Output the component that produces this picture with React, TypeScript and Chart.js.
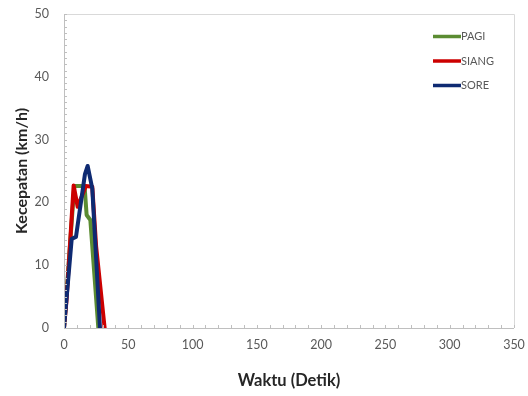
import React, { useEffect, useRef } from "react";
import { Chart, registerables } from "chart.js";

Chart.register(...registerables);

const seriesNames = ["PAGI", "SIANG", "SORE"];
const seriesColors = ["#5B8C32", "#CC0000", "#0E2A72"];

const pagiTime = [0, 8, 16, 17.6, 20.5, 26.7];
const pagiSpeed = [0, 22.6, 22.6, 18, 17.2, 0];

const siangTime = [0, 2, 7.5, 10.6, 17, 22, 25, 31.6];
const siangSpeed = [0, 4.5, 22.7, 19.3, 22.6, 22.5, 13, 0];

const soreTime = [0, 6, 9.3, 16.3, 18.4, 22, 28];
const soreSpeed = [0, 14.2, 14.5, 24.5, 25.8, 22.2, 0];

const xTicksMax = 350;
const yTicksMax = 50;
const xTitle = "Waktu (Detik)";
const yTitle = "Kecepatan (km/h)";

const FONT = "Lato, 'Open Sans', sans-serif";

const toPoints = (t: number[], v: number[]) => t.map((x, i) => ({ x, y: v[i] }));

const framePlugin = {
  id: "frame",
  afterDraw(chart: any) {
    const { ctx, chartArea } = chart;
    const xs = chart.scales.x;
    const ys = chart.scales.y;
    ctx.save();
    ctx.strokeStyle = "#D9D9D9";
    ctx.lineWidth = 1;
    ctx.beginPath();
    ctx.moveTo(chartArea.left, chartArea.top + 0.5);
    ctx.lineTo(chartArea.right + 0.5, chartArea.top + 0.5);
    ctx.lineTo(chartArea.right + 0.5, chartArea.bottom);
    ctx.stroke();
    ctx.strokeStyle = "#BFBFBF";
    ctx.beginPath();
    ctx.moveTo(chartArea.left + 0.5, chartArea.top);
    ctx.lineTo(chartArea.left + 0.5, chartArea.bottom + 0.5);
    ctx.lineTo(chartArea.right, chartArea.bottom + 0.5);
    ctx.stroke();
    ctx.beginPath();
    xs.ticks.forEach((t: any) => {
      const px = Math.round(xs.getPixelForValue(t.value)) + 0.5;
      ctx.moveTo(px, chartArea.bottom);
      ctx.lineTo(px, chartArea.bottom - 3);
    });
    ys.ticks.forEach((t: any) => {
      const py = Math.round(ys.getPixelForValue(t.value)) + 0.5;
      ctx.moveTo(chartArea.left, py);
      ctx.lineTo(chartArea.left + 3, py);
    });
    ctx.stroke();
    ctx.restore();
  },
};

const legendPlugin = {
  id: "insideLegend",
  afterDatasetsDraw(chart: any) {
    const { ctx, chartArea } = chart;
    ctx.save();
    ctx.font = `11px ${FONT}`;
    ctx.textBaseline = "middle";
    chart.data.datasets.forEach((ds: any, i: number) => {
      const y = chartArea.top + 22.5 + i * 24.5;
      const x0 = chartArea.right - 81;
      ctx.strokeStyle = ds.borderColor;
      ctx.lineWidth = 3.5;
      ctx.beginPath();
      ctx.moveTo(x0, y);
      ctx.lineTo(x0 + 28, y);
      ctx.stroke();
      ctx.fillStyle = "#595959";
      ctx.fillText(ds.label, x0 + 28, y);
    });
    ctx.restore();
  },
};

const zeroPad = (s: any) => {
  s.paddingTop = 0;
  s.paddingBottom = 0;
  s.paddingLeft = 0;
  s.paddingRight = 0;
};

export default function App() {
  const ref = useRef<HTMLCanvasElement | null>(null);
  useEffect(() => {
    document.body.style.margin = "0";
    if (!ref.current) return;
    const times = [pagiTime, siangTime, soreTime];
    const speeds = [pagiSpeed, siangSpeed, soreSpeed];
    const chart = new Chart(ref.current, {
      type: "scatter",
      data: {
        datasets: seriesNames.map((name, i) => ({
          label: name,
          data: toPoints(times[i], speeds[i]),
          showLine: true,
          order: seriesNames.length - i,
          borderColor: seriesColors[i],
          backgroundColor: seriesColors[i],
          borderWidth: 4,
          pointRadius: 0,
          tension: 0,
          borderJoinStyle: "round" as const,
          borderCapStyle: "round" as const,
        })),
      },
      options: {
        animation: false,
        responsive: false,
        maintainAspectRatio: false,
        layout: { padding: { left: 0, top: 14, right: 14, bottom: 0 } },
        plugins: { legend: { display: false }, tooltip: { enabled: false } },
        scales: {
          x: {
            type: "linear",
            min: 0,
            max: xTicksMax,
            border: { display: false },
            grid: { display: false, drawTicks: false },
            ticks: {
              stepSize: 10,
              autoSkip: false,
              maxRotation: 0,
              padding: 9,
              color: "#595959",
              font: { family: FONT, size: 12.5 },
              callback: (v: any) => (Number(v) % 50 === 0 ? String(v) : ""),
            },
            title: {
              display: true,
              text: xTitle,
              color: "#262626",
              font: { family: FONT, size: 16.5, weight: "bold" },
              padding: { top: 0, bottom: 5 },
            },
            afterFit: (s: any) => {
              s.height = 68;
              zeroPad(s);
            },
          },
          y: {
            type: "linear",
            min: 0,
            max: yTicksMax,
            border: { display: false },
            grid: { display: false, drawTicks: false },
            ticks: {
              stepSize: 1,
              autoSkip: false,
              padding: 15,
              color: "#595959",
              font: { family: FONT, size: 12.5 },
              callback: (v: any) => (Number(v) % 10 === 0 ? String(v) : ""),
            },
            title: {
              display: true,
              text: yTitle,
              color: "#262626",
              font: { family: FONT, size: 16, weight: "bold" },
              padding: { top: 12, bottom: 0 },
            },
            afterFit: (s: any) => {
              s.width = 64;
              zeroPad(s);
            },
          },
        },
      },
      plugins: [framePlugin, legendPlugin],
    });
    return () => chart.destroy();
  }, []);
  return (
    <div style={{ width: 528, height: 396, background: "#fff" }}>
      <canvas ref={ref} width={528} height={396} style={{ display: "block" }} />
    </div>
  );
}
